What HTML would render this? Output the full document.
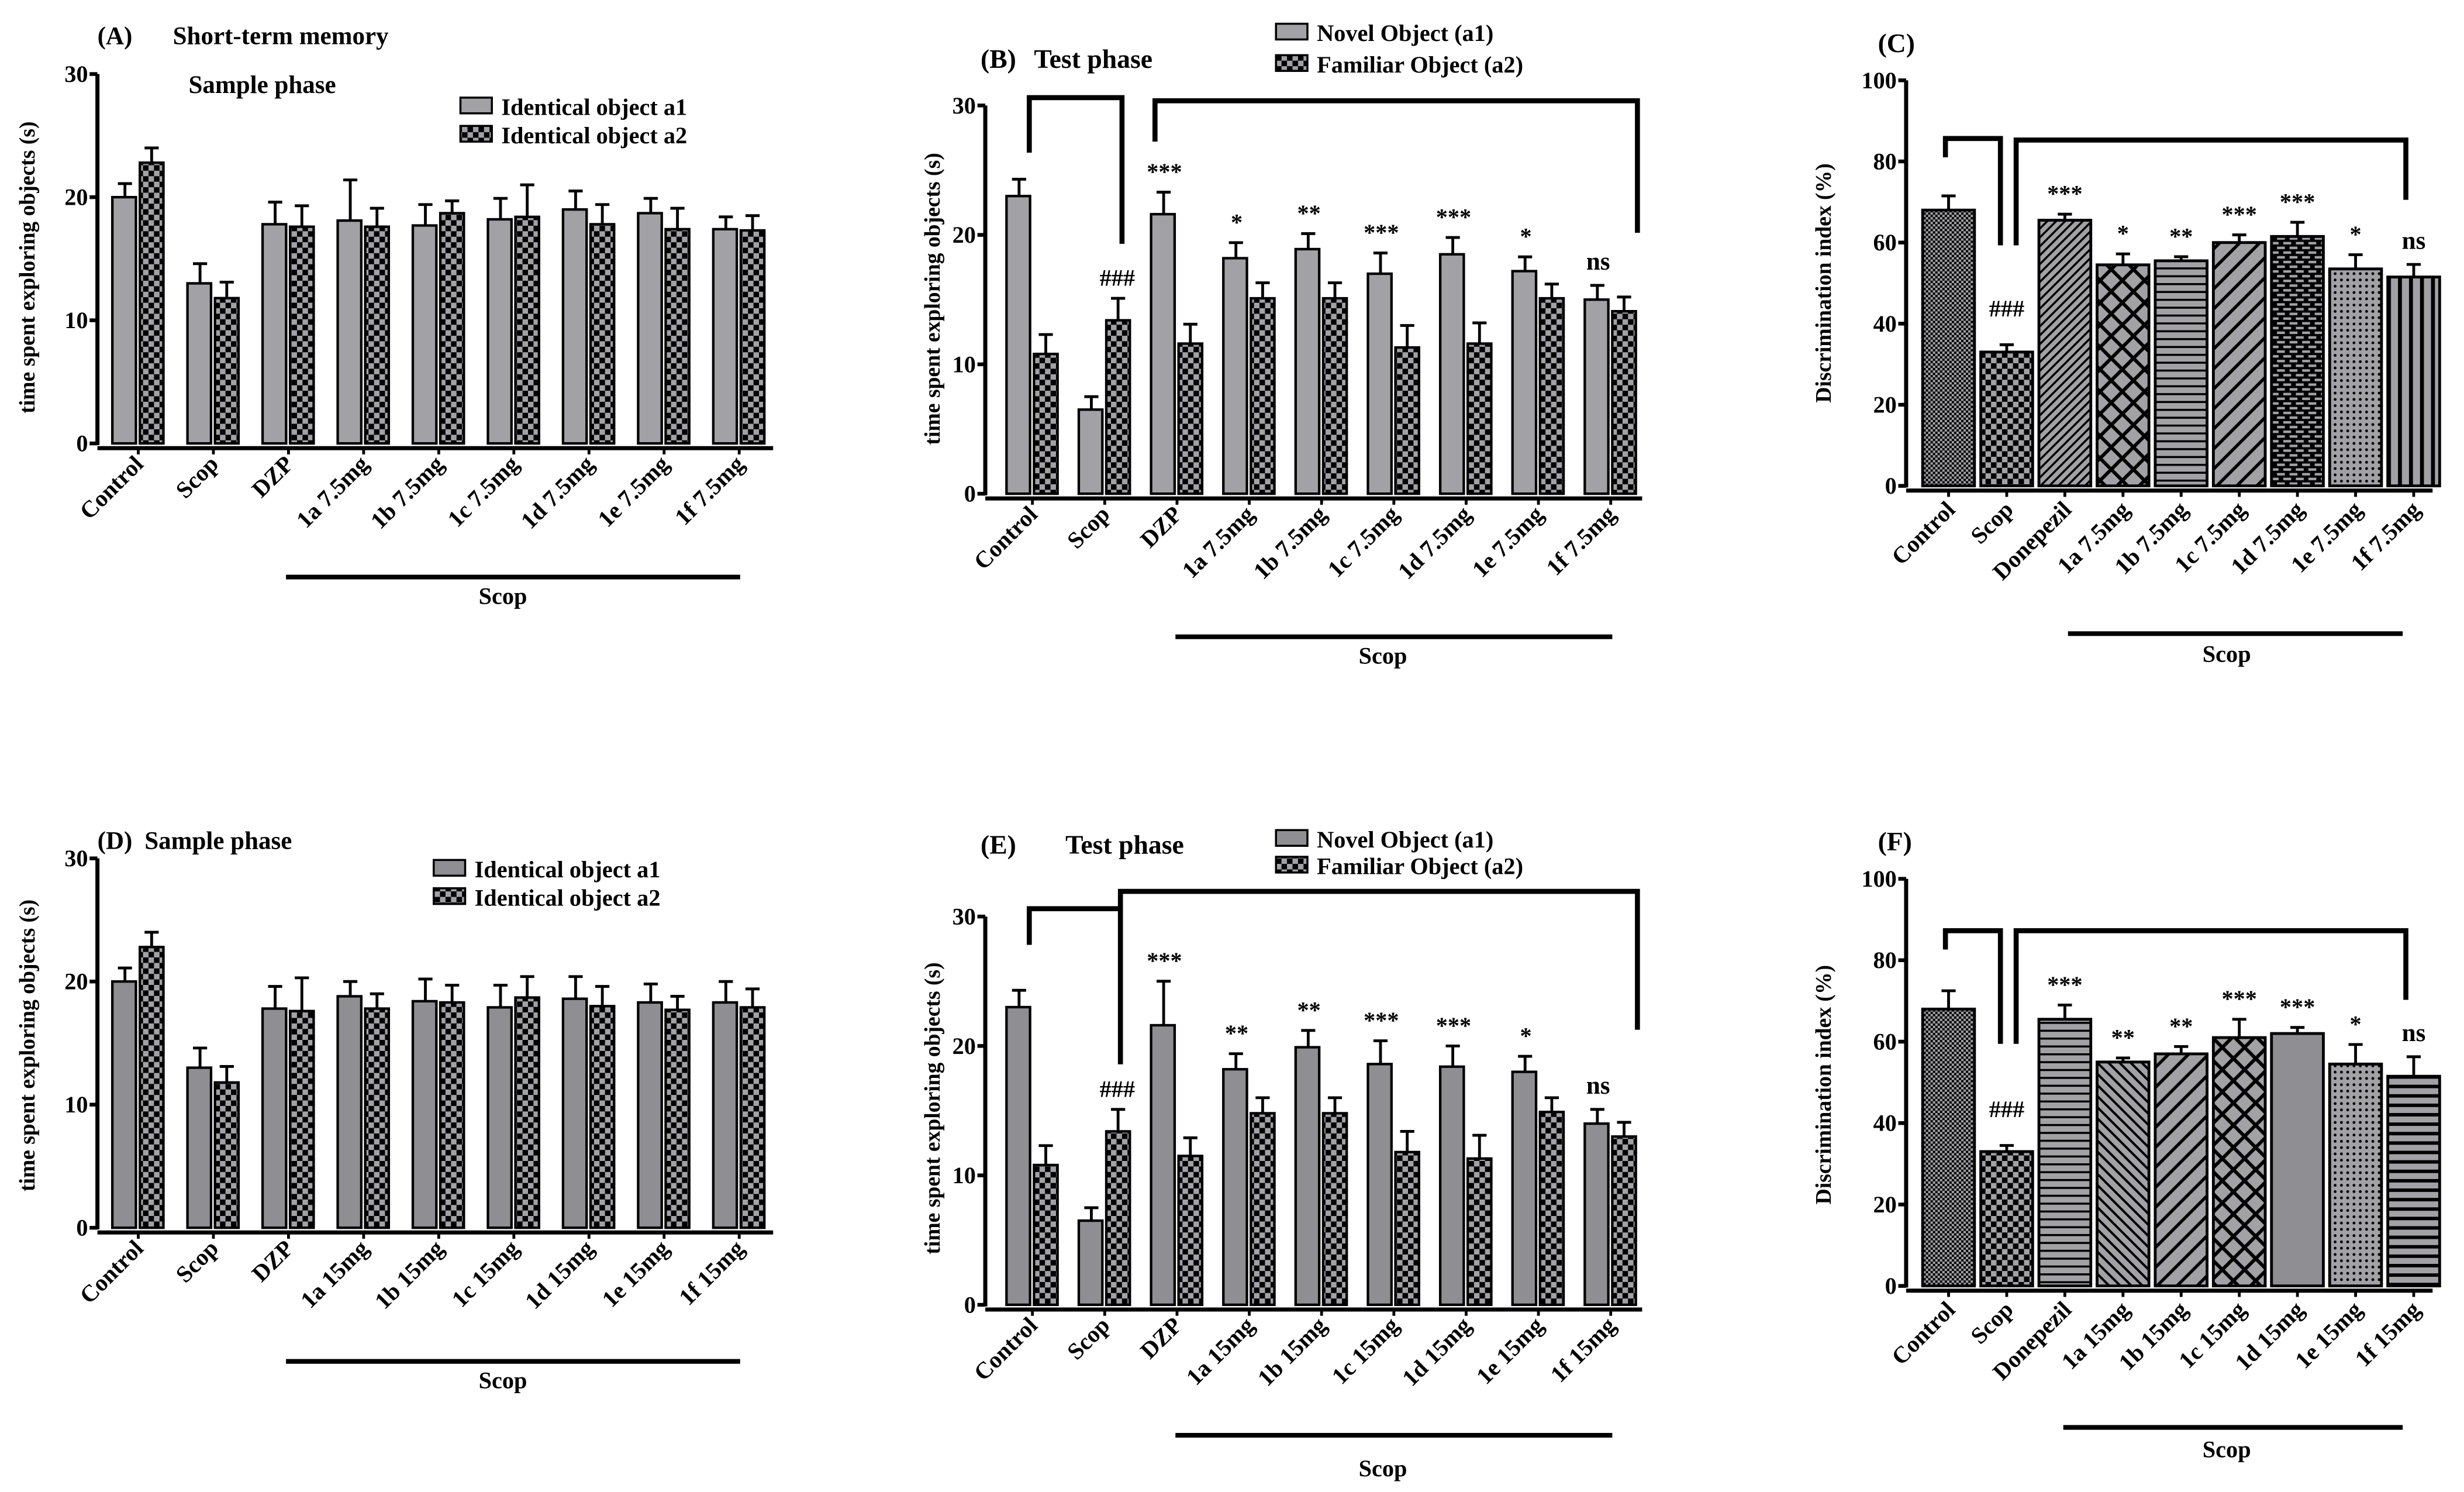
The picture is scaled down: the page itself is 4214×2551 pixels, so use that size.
<!DOCTYPE html>
<html><head><meta charset="utf-8"><style>
html,body{margin:0;padding:0;background:#fff}
svg{display:block}
text{font-family:"Liberation Serif",serif;font-weight:bold;fill:#000}
</style></head><body>
<svg id="fig" width="4214" height="2551" viewBox="0 0 1568 949" xmlns="http://www.w3.org/2000/svg">
<defs>
<pattern id="chk" width="7" height="7" patternUnits="userSpaceOnUse"><rect width="7" height="7" fill="#a2a1a6"/><rect width="3.5" height="3.5" fill="#000"/><rect x="3.5" y="3.5" width="3.5" height="3.5" fill="#000"/></pattern>
<pattern id="chkS" width="3" height="3" patternUnits="userSpaceOnUse"><rect width="3" height="3" fill="#a2a1a6"/><rect width="1.5" height="1.5" fill="#000"/><rect x="1.5" y="1.5" width="1.5" height="1.5" fill="#000"/></pattern>
<pattern id="diagF" width="4" height="4" patternUnits="userSpaceOnUse" patternTransform="rotate(45)"><rect width="4" height="4" fill="#a2a1a6"/><rect width="1.3" height="4" fill="#000"/></pattern>
<pattern id="diagW" width="9" height="9" patternUnits="userSpaceOnUse" patternTransform="rotate(45)"><rect width="9" height="9" fill="#a2a1a6"/><rect width="2" height="9" fill="#000"/></pattern>
<pattern id="diagR" width="5" height="5" patternUnits="userSpaceOnUse" patternTransform="rotate(-45)"><rect width="5" height="5" fill="#a2a1a6"/><rect width="1.5" height="5" fill="#000"/></pattern>
<pattern id="xh" width="10" height="10" patternUnits="userSpaceOnUse" patternTransform="rotate(45)"><rect width="10" height="10" fill="#a2a1a6"/><rect width="2.2" height="10" fill="#000"/><rect width="10" height="2.2" fill="#000"/></pattern>
<pattern id="hz" width="5" height="5" patternUnits="userSpaceOnUse"><rect width="5" height="5" fill="#a2a1a6"/><rect width="5" height="1.3" fill="#000"/></pattern>
<pattern id="hzW" width="6" height="6" patternUnits="userSpaceOnUse"><rect width="6" height="6" fill="#a2a1a6"/><rect width="6" height="2.2" fill="#000"/></pattern>
<pattern id="brick" width="8" height="6" patternUnits="userSpaceOnUse"><rect width="8" height="6" fill="#000"/><rect x="1" y="0.8" width="5" height="1.6" fill="#a2a1a6"/><rect x="-3" y="3.8" width="5" height="1.6" fill="#a2a1a6"/><rect x="5" y="3.8" width="5" height="1.6" fill="#a2a1a6"/></pattern>
<pattern id="dots" width="4" height="4" patternUnits="userSpaceOnUse"><rect width="4" height="4" fill="#a2a1a6"/><circle cx="2" cy="2" r="0.9" fill="#000"/></pattern>
<pattern id="vt" width="7" height="7" patternUnits="userSpaceOnUse"><rect width="7" height="7" fill="#a2a1a6"/><rect width="2.5" height="7" fill="#000"/></pattern>
</defs>
<g id="root"></g>
</svg>
<script>
// ---- Panel A data (sample phase, 7.5 mg) ----
const groupsA = ["Control","Scop","DZP","1a 7.5mg","1b 7.5mg","1c 7.5mg","1d 7.5mg","1e 7.5mg","1f 7.5mg"];
const a1A = [20,13,17.8,18.1,17.7,18.2,19,18.7,17.4];
const a1AErr = [1.1,1.6,1.8,3.3,1.7,1.7,1.5,1.2,1];
const a2A = [22.8,11.8,17.6,17.6,18.7,18.4,17.8,17.4,17.3];
const a2AErr = [1.2,1.3,1.7,1.5,1,2.6,1.6,1.7,1.2];
const ticksA = [0,10,20,30];
// ---- Panel B data (test phase, 7.5 mg) ----
const groupsB = ["Control","Scop","DZP","1a 7.5mg","1b 7.5mg","1c 7.5mg","1d 7.5mg","1e 7.5mg","1f 7.5mg"];
const a1B = [23,6.5,21.6,18.2,18.9,17,18.5,17.2,15];
const a1BErr = [1.3,1,1.7,1.2,1.2,1.6,1.3,1.1,1.1];
const a2B = [10.8,13.4,11.6,15.1,15.1,11.3,11.6,15.1,14.1];
const a2BErr = [1.5,1.7,1.5,1.2,1.2,1.7,1.6,1.1,1.1];
const sigB = ["","###","***","*","**","***","***","*","ns"];
const ticksB = [0,10,20,30];
// ---- Panel C data (discrimination index, 7.5 mg) ----
const groupsC = ["Control","Scop","Donepezil","1a 7.5mg","1b 7.5mg","1c 7.5mg","1d 7.5mg","1e 7.5mg","1f 7.5mg"];
const diC = [68,33,65.5,54.5,55.5,60,61.5,53.5,51.5];
const diCErr = [3.5,1.8,1.5,2.7,1,1.9,3.5,3.5,3.1];
const sigC = ["","###","***","*","**","***","***","*","ns"];
const ticksC = [0,20,40,60,80,100];
// ---- Panel D data (sample phase, 15 mg) ----
const groupsD = ["Control","Scop","DZP","1a 15mg","1b 15mg","1c 15mg","1d 15mg","1e 15mg","1f 15mg"];
const a1D = [20,13,17.8,18.8,18.4,17.9,18.6,18.3,18.3];
const a1DErr = [1.1,1.6,1.8,1.2,1.8,1.8,1.8,1.5,1.7];
const a2D = [22.8,11.8,17.6,17.8,18.3,18.7,18,17.7,17.9];
const a2DErr = [1.2,1.3,2.7,1.2,1.4,1.7,1.6,1.1,1.5];
// ---- Panel E data (test phase, 15 mg) ----
const groupsE = ["Control","Scop","DZP","1a 15mg","1b 15mg","1c 15mg","1d 15mg","1e 15mg","1f 15mg"];
const a1E = [23,6.5,21.6,18.2,19.9,18.6,18.4,18,14];
const a1EErr = [1.3,1,3.4,1.2,1.3,1.8,1.6,1.2,1.1];
const a2E = [10.8,13.4,11.5,14.8,14.8,11.8,11.3,14.9,13];
const a2EErr = [1.5,1.7,1.4,1.2,1.2,1.6,1.8,1.1,1.1];
const sigE = ["","###","***","**","**","***","***","*","ns"];
// ---- Panel F data (discrimination index, 15 mg) ----
const groupsF = ["Control","Scop","Donepezil","1a 15mg","1b 15mg","1c 15mg","1d 15mg","1e 15mg","1f 15mg"];
const diF = [68,33,65.5,55,57,61,62,54.5,51.5];
const diFErr = [4.5,1.5,3.5,1,1.8,4.5,1.5,4.8,4.8];
const sigF = ["","###","***","**","**","***","***","*","ns"];

const NS = "http://www.w3.org/2000/svg";
const root = document.getElementById('root');
function el(tag, attrs, parent, txt){
  const e = document.createElementNS(NS, tag);
  for (const k in attrs) e.setAttribute(k, attrs[k]);
  if (txt !== undefined) e.textContent = txt;
  (parent||root).appendChild(e);
  return e;
}

function axis(g, cfg, ticks, name){
  const ymap = v => cfg.y0 - (v/cfg.ymax)*(cfg.y0-cfg.yTop);
  const ax = el('g',{},g);
  
  
  el('line',{x1:cfg.ax,x2:cfg.ax,y1:cfg.y0+1,y2:cfg.yTop,stroke:'#000','stroke-width':2.6},ax);
  ticks.forEach(t=>{
    const y = ymap(t);
    el('line',{x1:cfg.ax-5,x2:cfg.ax,y1:y,y2:y,stroke:'#000','stroke-width':2.4},ax);
    const tx = el('text',{x:cfg.ax-6,y:y+5,'text-anchor':'end','font-size':15},ax,String(t));
    
    
  });
  const xa = el('line',{x1:cfg.ax,x2:cfg.xEnd,y1:cfg.y0+3,y2:cfg.y0+3,stroke:'#000','stroke-width':2.6},g);
  
  
  const yt = el('text',{transform:`translate(${cfg.ytX},${cfg.ytY}) rotate(-90)`,'text-anchor':'middle','font-size':14},g,cfg.ytitle);
  
  
  return ymap;
}

function errBar(g, x, yTopPx, yErrPx){
  el('line',{x1:x,x2:x,y1:yTopPx,y2:yErrPx,stroke:'#000','stroke-width':1.8},g);
  el('line',{x1:x-4.5,x2:x+4.5,y1:yErrPx,y2:yErrPx,stroke:'#000','stroke-width':1.8},g);
}

function xLabels(g, cfg, groups, name){
  groups.forEach((lab,i)=>{
    const cx = cfg.c0 + i*cfg.step;
    el('line',{x1:cx,x2:cx,y1:cfg.y0+3,y2:cfg.y0+7,stroke:'#000','stroke-width':1.8},g);
    const t = el('text',{transform:`translate(${cx+cfg.lx},${cfg.y0+cfg.ly}) rotate(-45)`,'text-anchor':'end','font-size':15},g,lab);
    
    
  });
}

function pairPanel(name, cfg, groups, a1, a1e, a2, a2e, ticks, sig, grayCol){
  const g = el('g',{});
  
  
  const ymap = axis(g, cfg, ticks, name);
  groups.forEach((lab,i)=>{
    const cx = cfg.c0 + i*cfg.step;
    const bw = cfg.bw;
    const y1 = ymap(a1[i]), y2 = ymap(a2[i]);
    errBar(g, cx-bw/2-0.5, y1, ymap(a1[i]+a1e[i]));
    errBar(g, cx+bw/2+0.5, y2, ymap(a2[i]+a2e[i]));
    const b1 = el('rect',{x:cx-bw-0.5,y:y1,width:bw-1,height:cfg.y0-y1,fill:grayCol,stroke:'#000','stroke-width':1.6},g);
    
    
    const b2 = el('rect',{x:cx+1,y:y2,width:bw-1,height:cfg.y0-y2,fill:'url(#chk)',stroke:'#000','stroke-width':1.6},g);
    
    
    if (sig && sig[i]){
      const onA2 = sig[i]==='###';
      const top = onA2 ? ymap(a2[i]+a2e[i]) : ymap(Math.max(a1[i]+a1e[i], 0));
      const sx = onA2 ? cx+bw/2 : cx-bw/2;
      const st = el('text',{x:sx,y:top-(sig[i]==='ns'?10:8),'text-anchor':'middle','font-size':sig[i]==='ns'?16:15},g,sig[i]);
      
      
    }
  });
  xLabels(g, cfg, groups, name);
  return g;
}

function diPanel(name, cfg, groups, vals, errs, sig, fills){
  const g = el('g',{});
  
  
  const ymap = axis(g, cfg, ticksC, name);
  groups.forEach((lab,i)=>{
    const cx = cfg.c0 + i*cfg.step;
    const y = ymap(vals[i]);
    errBar(g, cx, y, ymap(vals[i]+errs[i]));
    const b = el('rect',{x:cx-cfg.bw/2,y:y,width:cfg.bw,height:cfg.y0-y,fill:fills[i],stroke:'#000','stroke-width':1.8},g);
    
    
    if (sig[i]){
      let sy = ymap(vals[i]+errs[i]) - (sig[i]==='ns'?10:8);
      if (sig[i]==='###') sy = ymap(vals[i]+errs[i]) - 18;
      const st = el('text',{x:cx,y:sy,'text-anchor':'middle','font-size':sig[i]==='ns'?16:15},g,sig[i]);
      
      
    }
  });
  xLabels(g, cfg, groups, name);
  return g;
}

function poly(pts, name){
  const p = el('polyline',{points:pts,fill:'none',stroke:'#000','stroke-width':3.2});
  
  
}
function txt(x,y,s,size,name,anchor){
  const t = el('text',{x:x,y:y,'font-size':size,'text-anchor':anchor||'start'},root,s);
  
  
}
function underline(x1,x2,y,tx,ty,name){
  const l = el('line',{x1:x1,x2:x2,y1:y,y2:y,stroke:'#000','stroke-width':3});
  
  
  txt(tx,ty,'Scop',15,name+'-scop-label','middle');
}
function legend(x,y,fill,label,name){
  const r = el('rect',{x:x,y:y,width:20,height:10,fill:fill,stroke:'#000','stroke-width':1.3});
  
  
  txt(x+26,y+11,label,15,name+'-label');
}

// Panel A
pairPanel('panel-a',{ax:62,y0:282,yTop:47,ymax:30,xEnd:492,c0:88,step:47.8,bw:16,lx:4,ly:14,ytX:22,ytY:170,ytitle:'time spent exploring objects (s)'},groupsA,a1A,a1AErr,a2A,a2AErr,ticksA,null,'#a2a1a6');
txt(62,28,'(A)',16,'panel-a-letter');
txt(110,28,'Short-term memory',16,'panel-a-title');
txt(120,59,'Sample phase',16,'panel-a-subtitle');
legend(293,62,'#a2a1a6','Identical object a1','legend-a1');
legend(293,80,'url(#chk)','Identical object a2','legend-a2');
underline(182,471,367,320,384,'panel-a');

// Panel B
pairPanel('panel-b',{ax:627,y0:314,yTop:67,ymax:30,xEnd:1045,c0:657,step:46,bw:16,lx:4,ly:14,ytX:598,ytY:190,ytitle:'time spent exploring objects (s)'},groupsB,a1B,a1BErr,a2B,a2BErr,ticksB,sigB,'#a2a1a6');
txt(624,43,'(B)',17,'panel-b-letter');
txt(658,43,'Test phase',17,'panel-b-title');
legend(812,15,'#a2a1a6','Novel Object (a1)','legend-novel');
legend(812,35,'url(#chk)','Familiar Object (a2)','legend-familiar');
poly('655,97 655,62 714,62 714,155','bracket-b-control-scop');
poly('735,90 735,64 1042,64 1042,148','bracket-b-scop-treatments');
underline(748,1026,405,880,422,'panel-b');

// Panel C
const fillsC = ['url(#chkS)','url(#chk)','url(#diagF)','url(#xh)','url(#hz)','url(#diagW)','url(#brick)','url(#dots)','url(#vt)'];
diPanel('panel-c',{ax:1213,y0:309,yTop:51,ymax:100,xEnd:1548,c0:1240,step:37,bw:33,lx:5,ly:16,ytX:1165,ytY:180,ytitle:'Discrimination index (%)'},groupsC,diC,diCErr,sigC,fillsC);
txt(1195,33,'(C)',17,'panel-c-letter');
poly('1238,100 1238,88 1273,88 1273,156','bracket-c-control-scop');
poly('1283,156 1283,89 1531,89 1531,127','bracket-c-scop-treatments');
underline(1316,1529,403,1417,421,'panel-c');

// Panel D
pairPanel('panel-d',{ax:62,y0:781,yTop:546,ymax:30,xEnd:492,c0:88,step:47.8,bw:16,lx:4,ly:14,ytX:22,ytY:665,ytitle:'time spent exploring objects (s)'},groupsD,a1D,a1DErr,a2D,a2DErr,ticksA,null,'#8f8e93');
txt(62,540,'(D)',16,'panel-d-letter');
txt(92,540,'Sample phase',16,'panel-d-title');
legend(276,547,'#8f8e93','Identical object a1','legend-d-a1');
legend(276,565,'url(#chk)','Identical object a2','legend-d-a2');
underline(182,471,866,320,883,'panel-d');

// Panel E
pairPanel('panel-e',{ax:627,y0:830,yTop:583,ymax:30,xEnd:1045,c0:657,step:46,bw:16,lx:4,ly:14,ytX:598,ytY:705,ytitle:'time spent exploring objects (s)'},groupsE,a1E,a1EErr,a2E,a2EErr,ticksB,sigE,'#8f8e93');
txt(624,543,'(E)',17,'panel-e-letter');
txt(678,543,'Test phase',17,'panel-e-title');
legend(812,528,'#8f8e93','Novel Object (a1)','legend-e-novel');
legend(812,545,'url(#chk)','Familiar Object (a2)','legend-e-familiar');
poly('655,601 655,578 713,578 713,677','bracket-e-control-scop');
poly('713,578 713,567 1042,567 1042,655','bracket-e-scop-treatments');
underline(748,1026,913,880,939,'panel-e');

// Panel F
const fillsF = ['url(#chkS)','url(#chk)','url(#hz)','url(#diagR)','url(#diagW)','url(#xh)','#8f8e93','url(#dots)','url(#hzW)'];
diPanel('panel-f',{ax:1213,y0:818,yTop:559,ymax:100,xEnd:1548,c0:1240,step:37,bw:33,lx:5,ly:16,ytX:1165,ytY:690,ytitle:'Discrimination index (%)'},groupsF,diF,diFErr,sigF,fillsF);
txt(1195,541,'(F)',17,'panel-f-letter');
poly('1238,604 1238,592 1273,592 1273,664','bracket-f-control-scop');
poly('1283,664 1283,592 1531,592 1531,636','bracket-f-scop-treatments');
underline(1313,1529,908,1417,927,'panel-f');
</script>
</body></html>
